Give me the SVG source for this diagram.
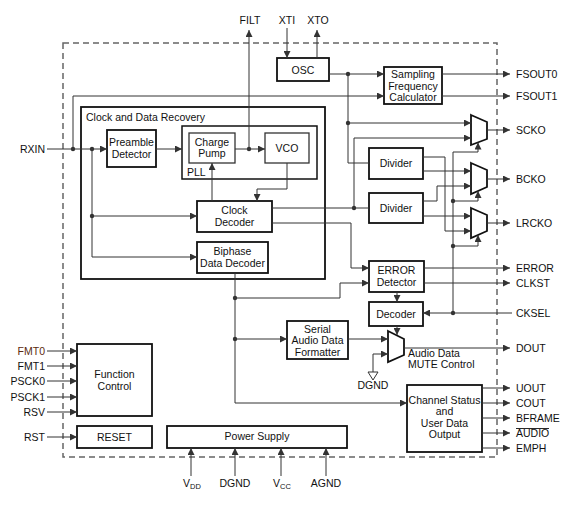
<svg xmlns="http://www.w3.org/2000/svg" width="588" height="507" viewBox="0 0 588 507">
<defs>
<marker id="a" markerWidth="8" markerHeight="7" refX="7" refY="3.5" orient="auto" markerUnits="userSpaceOnUse">
<path d="M0,0 L7,3.5 L0,7 z" fill="#333"/>
</marker>
<style>
text{font-family:"Liberation Sans",Arial,sans-serif;font-size:10.5px;fill:#111}
.c{text-anchor:middle}
.r{text-anchor:end}
.b{fill:#fff;stroke:#111;stroke-width:1.8}
.t{fill:#fff;stroke:#333;stroke-width:1.3}
.w path{fill:none;stroke:#333;stroke-width:1}
.w .m{marker-end:url(#a)}
.d{fill:#333}
</style>
</defs>
<rect width="588" height="507" fill="#fff"/>
<rect x="63" y="43" width="434" height="414" fill="none" stroke="#666" stroke-width="1.5" stroke-dasharray="6,4"/>

<g id="cdr"><rect x="81" y="107" width="244" height="172" class="b" fill="none"/><text x="86" y="121">Clock and Data Recovery</text></g>
<g id="pll"><rect x="182" y="126" width="135" height="53" fill="none" stroke="#111" stroke-width="1.5"/><text x="187" y="176">PLL</text></g>
<g id="osc"><rect x="277" y="58" width="52" height="23" class="b"/><text x="303" y="73.5" class="c">OSC</text></g>
<g id="sfc"><rect x="384" y="67" width="58" height="37" class="b"/><text x="413" y="78" class="c">Sampling</text><text x="413" y="89.5" class="c">Frequency</text><text x="413" y="101" class="c">Calculator</text></g>
<g id="preamble"><rect x="107" y="130" width="49" height="37" class="b"/><text x="131.5" y="146" class="c">Preamble</text><text x="131.5" y="158" class="c">Detector</text></g>
<g id="chargepump"><rect x="189" y="133" width="46" height="30" class="t"/><text x="212" y="146" class="c">Charge</text><text x="212" y="157" class="c">Pump</text></g>
<g id="vco"><rect x="265" y="133" width="44" height="30" class="t"/><text x="287" y="152" class="c">VCO</text></g>
<g id="clockdec"><rect x="197" y="201" width="75" height="31" class="b"/><text x="234.5" y="214" class="c">Clock</text><text x="234.5" y="225.5" class="c">Decoder</text></g>
<g id="biphase"><rect x="197" y="242" width="71" height="31" class="b"/><text x="232.5" y="255" class="c">Biphase</text><text x="232.5" y="266.5" class="c">Data Decoder</text></g>
<g id="div1"><rect x="369" y="148" width="54" height="31" class="b"/><text x="396" y="167" class="c">Divider</text></g>
<g id="div2"><rect x="369" y="193" width="54" height="30" class="b"/><text x="396" y="212" class="c">Divider</text></g>
<g id="mux1"><polygon points="471,115 487,122 487,139 471,145" class="b"/></g>
<g id="mux2"><polygon points="471,163 487,170 487,187 471,194" class="b"/></g>
<g id="mux3"><polygon points="471,208 487,215 487,231 471,238" class="b"/></g>
<g id="errdet"><rect x="369" y="261" width="55" height="31" class="b"/><text x="396.5" y="273.5" class="c">ERROR</text><text x="396.5" y="285.5" class="c">Detector</text></g>
<g id="decoder"><rect x="369" y="302" width="54" height="24" class="b"/><text x="396" y="317.5" class="c">Decoder</text></g>
<g id="formatter"><rect x="287" y="321" width="61" height="38" class="b"/><text x="317.5" y="332.5" class="c">Serial</text><text x="317.5" y="344" class="c">Audio Data</text><text x="317.5" y="355.5" class="c">Formatter</text></g>
<g id="mutemux"><polygon points="388,331 404,339 404,355 388,362" class="b"/><text x="408" y="357">Audio Data</text><text x="408" y="368">MUTE Control</text></g>
<g id="chstatus"><rect x="407" y="385" width="75" height="67" class="b"/><text x="444.5" y="404" class="c">Channel Status</text><text x="444.5" y="415" class="c">and</text><text x="444.5" y="426.5" class="c">User Data</text><text x="444.5" y="437.5" class="c">Output</text></g>
<g id="funcctrl"><rect x="77" y="344" width="75" height="72" class="b"/><text x="114.5" y="378" class="c">Function</text><text x="114.5" y="389.5" class="c">Control</text></g>
<g id="reset"><rect x="77" y="426" width="75" height="22" class="b"/><text x="114.5" y="441" class="c">RESET</text></g>
<g id="power"><rect x="167" y="426" width="180" height="22" class="b"/><text x="257" y="440" class="c">Power Supply</text></g>

<g id="connectors" class="w">
<path class="m" d="M249,149 V30"/>
<path class="m" d="M287,28 V58"/>
<path class="m" d="M317,58 V30"/>
<path class="m" d="M329,74 H384"/>
<path class="m" d="M442,74 H510"/>
<path class="m" d="M73,149 V96 H384"/>
<path class="m" d="M442,96 H510"/>
<path d="M348,74 V163 H369"/>
<path class="m" d="M348,123 H471"/>
<path class="m" d="M354,208 V138 H471"/>
<path d="M272,208 H369"/>
<path class="m" d="M272,223 H351 V268 H369"/>
<path class="m" d="M423,157 H445 V231 H471"/>
<path class="m" d="M423,171 H471"/>
<path class="m" d="M423,201 H437 V186 H471"/>
<path class="m" d="M423,216 H471"/>
<path class="m" d="M487,130 H510"/>
<path class="m" d="M487,179 H510"/>
<path class="m" d="M487,223 H510"/>
<path class="m" d="M453,313 V152 H478 V142.5"/>
<path class="m" d="M453,201 H478 V191"/>
<path class="m" d="M453,246 H478 V235"/>
<path class="m" d="M512,313 H423"/>
<path class="m" d="M424,268 H510"/>
<path class="m" d="M424,283 H510"/>
<path class="m" d="M397,292 V302"/>
<path class="m" d="M397,326 V335"/>
<path class="m" d="M235,273 V403 H407"/>
<path class="m" d="M235,298 H340 V283 H369"/>
<path class="m" d="M235,339 H287"/>
<path class="m" d="M348,339 H388"/>
<path class="m" d="M373,372 V354 H388"/>
<path class="m" d="M404,348 H510"/>
<path class="m" d="M482,388 H510"/>
<path class="m" d="M482,403 H510"/>
<path class="m" d="M482,418 H510"/>
<path class="m" d="M482,433 H510"/>
<path class="m" d="M482,448 H510"/>
<path class="m" d="M47,149 H107"/>
<path class="m" d="M92,149 V257 H197"/>
<path class="m" d="M92,216 H197"/>
<path class="m" d="M156,149 H182"/>
<path class="m" d="M235,149 H265"/>
<path class="m" d="M287,163 V189 H257 V201"/>
<path class="m" d="M212,201 V163"/>
<path class="m" d="M47,351 H77"/>
<path class="m" d="M47,366 H77"/>
<path class="m" d="M47,381 H77"/>
<path class="m" d="M47,397 H77"/>
<path class="m" d="M47,412 H77"/>
<path class="m" d="M47,437 H77"/>
<path class="m" d="M191,476 V448"/>
<path class="m" d="M235,476 V448"/>
<path class="m" d="M281,476 V448"/>
<path class="m" d="M326,476 V448"/>
<polygon points="368,372 378,372 373,380" fill="#fff" stroke="#333" stroke-width="1"/>
<circle cx="73" cy="149" r="2.2" class="d"/>
<circle cx="92" cy="149" r="2.2" class="d"/>
<circle cx="249" cy="149" r="2.2" class="d"/>
<circle cx="348" cy="74" r="2.2" class="d"/>
<circle cx="348" cy="123" r="2.2" class="d"/>
<circle cx="354" cy="208" r="2.2" class="d"/>
<circle cx="92" cy="216" r="2.2" class="d"/>
<circle cx="453" cy="201" r="2.2" class="d"/>
<circle cx="453" cy="246" r="2.2" class="d"/>
<circle cx="453" cy="313" r="2.2" class="d"/>
<circle cx="235" cy="298" r="2.2" class="d"/>
<circle cx="235" cy="339" r="2.2" class="d"/>
</g>

<g id="pins">
<text x="250" y="24" class="c">FILT</text>
<text x="287" y="24" class="c">XTI</text>
<text x="318" y="24" class="c">XTO</text>
<text x="45" y="153" class="r">RXIN</text>
<text x="45" y="355" class="r" style="fill:#5c2a0e">FMT0</text>
<text x="45" y="370" class="r">FMT1</text>
<text x="45" y="385" class="r">PSCK0</text>
<text x="45" y="401" class="r">PSCK1</text>
<text x="45" y="416" class="r">RSV</text>
<text x="45" y="441" class="r">RST</text>
<text x="516" y="78">FSOUT0</text>
<text x="516" y="100">FSOUT1</text>
<text x="516" y="134">SCKO</text>
<text x="516" y="183">BCKO</text>
<text x="516" y="227">LRCKO</text>
<text x="516" y="272">ERROR</text>
<text x="516" y="287">CLKST</text>
<text x="516" y="317">CKSEL</text>
<text x="516" y="352">DOUT</text>
<text x="516" y="392">UOUT</text>
<text x="516" y="407">COUT</text>
<text x="516" y="422">BFRAME</text>
<text x="516" y="437">AUDIO</text>
<line x1="516" y1="428.5" x2="549" y2="428.5" stroke="#111" stroke-width="0.9"/>
<text x="516" y="452">EMPH</text>
<text x="373" y="389" class="c">DGND</text>
<text x="183" y="487">V<tspan font-size="7.5" dy="2">DD</tspan></text>
<text x="235" y="487" class="c">DGND</text>
<text x="273" y="487">V<tspan font-size="7.5" dy="2">CC</tspan></text>
<text x="326" y="487" class="c">AGND</text>
</g>
</svg>
